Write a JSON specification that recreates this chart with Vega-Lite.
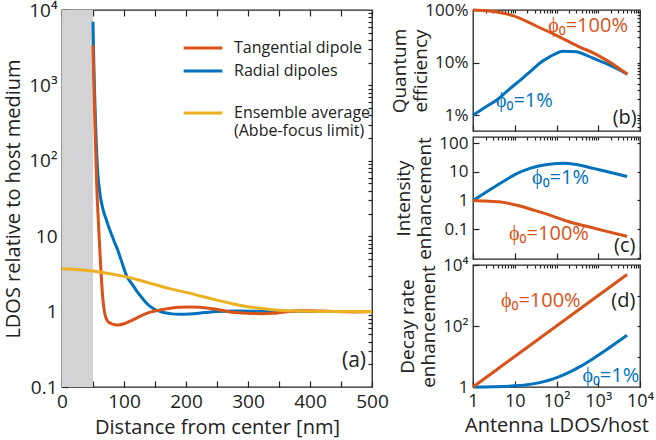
{
  "$schema": "https://vega.github.io/schema/vega-lite/v6.json",
  "padding": {"left": 3, "top": 0, "right": 0, "bottom": 0},
  "background": "white",
  "config": {
    "font": "Open Sans",
    "view": {"stroke": "#222", "strokeWidth": 1.3},
    "axis": {"labelFont": "Open Sans", "titleFont": "Open Sans", "labelColor": "#222", "titleColor": "#222", "tickColor": "#222", "domain": false, "grid": false, "tickSize": -6, "tickWidth": 1.2, "titleFontWeight": "normal", "labelFontSize": 17, "titleFontSize": 18, "labelPadding": 11, "labelFlush": false, "labelOverlap": false},
    "legend": {"labelFont": "Open Sans", "labelColor": "#222", "orient": "none", "title": null, "symbolType": "stroke", "symbolSize": 1500, "symbolStrokeWidth": 3, "labelFontSize": 16, "labelOffset": 10},
    "text": {"font": "Open Sans"}
  },
  "datasets": {
    "ldos": [
      {"r": 50, "v": 7000, "s": "Radial dipoles"}, {"r": 50.5, "v": 4200, "s": "Radial dipoles"}, {"r": 51, "v": 2600, "s": "Radial dipoles"}, {"r": 52, "v": 1200, "s": "Radial dipoles"}, {"r": 53, "v": 620, "s": "Radial dipoles"}, {"r": 54, "v": 340, "s": "Radial dipoles"}, {"r": 55, "v": 200, "s": "Radial dipoles"}, {"r": 56, "v": 125, "s": "Radial dipoles"}, {"r": 57, "v": 85, "s": "Radial dipoles"}, {"r": 58, "v": 63, "s": "Radial dipoles"}, {"r": 60, "v": 44, "s": "Radial dipoles"}, {"r": 62, "v": 33, "s": "Radial dipoles"}, {"r": 64, "v": 27, "s": "Radial dipoles"}, {"r": 66, "v": 23, "s": "Radial dipoles"}, {"r": 68, "v": 20, "s": "Radial dipoles"}, {"r": 71, "v": 17, "s": "Radial dipoles"}, {"r": 75, "v": 13.5, "s": "Radial dipoles"}, {"r": 80, "v": 10.5, "s": "Radial dipoles"}, {"r": 85, "v": 8.2, "s": "Radial dipoles"}, {"r": 90, "v": 6.5, "s": "Radial dipoles"}, {"r": 97, "v": 4.4, "s": "Radial dipoles"}, {"r": 104, "v": 3.0, "s": "Radial dipoles"}, {"r": 110, "v": 2.5, "s": "Radial dipoles"}, {"r": 115, "v": 2.2, "s": "Radial dipoles"}, {"r": 120, "v": 1.9, "s": "Radial dipoles"}, {"r": 126, "v": 1.64, "s": "Radial dipoles"}, {"r": 136, "v": 1.3, "s": "Radial dipoles"}, {"r": 147, "v": 1.1, "s": "Radial dipoles"}, {"r": 160, "v": 0.99, "s": "Radial dipoles"}, {"r": 174, "v": 0.94, "s": "Radial dipoles"}, {"r": 190, "v": 0.92, "s": "Radial dipoles"}, {"r": 206, "v": 0.93, "s": "Radial dipoles"}, {"r": 230, "v": 0.97, "s": "Radial dipoles"}, {"r": 250, "v": 1.0, "s": "Radial dipoles"}, {"r": 280, "v": 1.02, "s": "Radial dipoles"}, {"r": 320, "v": 1.01, "s": "Radial dipoles"}, {"r": 360, "v": 1.0, "s": "Radial dipoles"}, {"r": 400, "v": 1.0, "s": "Radial dipoles"}, {"r": 450, "v": 1.0, "s": "Radial dipoles"}, {"r": 500, "v": 1.0, "s": "Radial dipoles"},
      {"r": 50, "v": 3400, "s": "Tangential dipole"}, {"r": 50.5, "v": 2200, "s": "Tangential dipole"}, {"r": 51, "v": 1500, "s": "Tangential dipole"}, {"r": 52, "v": 700, "s": "Tangential dipole"}, {"r": 53, "v": 330, "s": "Tangential dipole"}, {"r": 54, "v": 160, "s": "Tangential dipole"}, {"r": 55, "v": 85, "s": "Tangential dipole"}, {"r": 56, "v": 48, "s": "Tangential dipole"}, {"r": 57, "v": 30, "s": "Tangential dipole"}, {"r": 58, "v": 20, "s": "Tangential dipole"}, {"r": 60, "v": 9.5, "s": "Tangential dipole"}, {"r": 62, "v": 4.6, "s": "Tangential dipole"}, {"r": 64, "v": 2.4, "s": "Tangential dipole"}, {"r": 66, "v": 1.45, "s": "Tangential dipole"}, {"r": 68, "v": 1.05, "s": "Tangential dipole"}, {"r": 70, "v": 0.87, "s": "Tangential dipole"}, {"r": 74, "v": 0.74, "s": "Tangential dipole"}, {"r": 80, "v": 0.69, "s": "Tangential dipole"}, {"r": 86, "v": 0.67, "s": "Tangential dipole"}, {"r": 91, "v": 0.665, "s": "Tangential dipole"}, {"r": 100, "v": 0.69, "s": "Tangential dipole"}, {"r": 110, "v": 0.75, "s": "Tangential dipole"}, {"r": 120, "v": 0.82, "s": "Tangential dipole"}, {"r": 130, "v": 0.9, "s": "Tangential dipole"}, {"r": 140, "v": 0.97, "s": "Tangential dipole"}, {"r": 150, "v": 1.02, "s": "Tangential dipole"}, {"r": 160, "v": 1.06, "s": "Tangential dipole"}, {"r": 175, "v": 1.11, "s": "Tangential dipole"}, {"r": 190, "v": 1.14, "s": "Tangential dipole"}, {"r": 205, "v": 1.15, "s": "Tangential dipole"}, {"r": 222, "v": 1.14, "s": "Tangential dipole"}, {"r": 240, "v": 1.1, "s": "Tangential dipole"}, {"r": 255, "v": 1.05, "s": "Tangential dipole"}, {"r": 271, "v": 0.99, "s": "Tangential dipole"}, {"r": 290, "v": 0.96, "s": "Tangential dipole"}, {"r": 305, "v": 0.945, "s": "Tangential dipole"}, {"r": 324, "v": 0.94, "s": "Tangential dipole"}, {"r": 340, "v": 0.95, "s": "Tangential dipole"}, {"r": 355, "v": 0.98, "s": "Tangential dipole"}, {"r": 370, "v": 1.01, "s": "Tangential dipole"}, {"r": 385, "v": 1.03, "s": "Tangential dipole"}, {"r": 400, "v": 1.03, "s": "Tangential dipole"}, {"r": 420, "v": 1.02, "s": "Tangential dipole"}, {"r": 440, "v": 1.0, "s": "Tangential dipole"}, {"r": 470, "v": 0.99, "s": "Tangential dipole"}, {"r": 500, "v": 1.0, "s": "Tangential dipole"},
      {"r": 0, "v": 3.7, "s": "Ensemble average"}, {"r": 25, "v": 3.62, "s": "Ensemble average"}, {"r": 50, "v": 3.45, "s": "Ensemble average"}, {"r": 75, "v": 3.2, "s": "Ensemble average"}, {"r": 100, "v": 2.93, "s": "Ensemble average"}, {"r": 125, "v": 2.6, "s": "Ensemble average"}, {"r": 150, "v": 2.28, "s": "Ensemble average"}, {"r": 175, "v": 2.0, "s": "Ensemble average"}, {"r": 200, "v": 1.8, "s": "Ensemble average"}, {"r": 225, "v": 1.6, "s": "Ensemble average"}, {"r": 250, "v": 1.42, "s": "Ensemble average"}, {"r": 275, "v": 1.27, "s": "Ensemble average"}, {"r": 300, "v": 1.16, "s": "Ensemble average"}, {"r": 325, "v": 1.09, "s": "Ensemble average"}, {"r": 350, "v": 1.04, "s": "Ensemble average"}, {"r": 375, "v": 1.02, "s": "Ensemble average"}, {"r": 400, "v": 1.01, "s": "Ensemble average"}, {"r": 450, "v": 1.0, "s": "Ensemble average"}, {"r": 500, "v": 1.0, "s": "Ensemble average"}
    ],
    "qe": [
      {"f": 1, "v": 0.01, "p": "1%"}, {"f": 2, "v": 0.0143, "p": "1%"}, {"f": 3.7, "v": 0.0194, "p": "1%"}, {"f": 7, "v": 0.03, "p": "1%"}, {"f": 13.4, "v": 0.046, "p": "1%"}, {"f": 25, "v": 0.07, "p": "1%"}, {"f": 40, "v": 0.098, "p": "1%"}, {"f": 70, "v": 0.13, "p": "1%"}, {"f": 145, "v": 0.165, "p": "1%"}, {"f": 300, "v": 0.16, "p": "1%"}, {"f": 525, "v": 0.137, "p": "1%"}, {"f": 1000, "v": 0.11, "p": "1%"}, {"f": 1600, "v": 0.095, "p": "1%"}, {"f": 3000, "v": 0.075, "p": "1%"}, {"f": 5000, "v": 0.06, "p": "1%"},
      {"f": 1, "v": 1.0, "p": "100%"}, {"f": 2, "v": 0.97, "p": "100%"}, {"f": 4, "v": 0.91, "p": "100%"}, {"f": 9, "v": 0.78, "p": "100%"}, {"f": 20, "v": 0.6, "p": "100%"}, {"f": 40, "v": 0.46, "p": "100%"}, {"f": 84, "v": 0.35, "p": "100%"}, {"f": 150, "v": 0.28, "p": "100%"}, {"f": 365, "v": 0.197, "p": "100%"}, {"f": 800, "v": 0.15, "p": "100%"}, {"f": 1600, "v": 0.11, "p": "100%"}, {"f": 3000, "v": 0.08, "p": "100%"}, {"f": 5000, "v": 0.06, "p": "100%"}
    ],
    "ie": [
      {"f": 1, "v": 1, "p": "1%"}, {"f": 2, "v": 1.9, "p": "1%"}, {"f": 5.3, "v": 4.6, "p": "1%"}, {"f": 10, "v": 8, "p": "1%"}, {"f": 23, "v": 13.3, "p": "1%"}, {"f": 50, "v": 17.5, "p": "1%"}, {"f": 145, "v": 20, "p": "1%"}, {"f": 300, "v": 18, "p": "1%"}, {"f": 760, "v": 13.3, "p": "1%"}, {"f": 1500, "v": 10.5, "p": "1%"}, {"f": 3000, "v": 8.3, "p": "1%"}, {"f": 4900, "v": 6.9, "p": "1%"},
      {"f": 1, "v": 1, "p": "100%"}, {"f": 2, "v": 0.96, "p": "100%"}, {"f": 5.3, "v": 0.86, "p": "100%"}, {"f": 13.4, "v": 0.64, "p": "100%"}, {"f": 30, "v": 0.45, "p": "100%"}, {"f": 84, "v": 0.28, "p": "100%"}, {"f": 200, "v": 0.18, "p": "100%"}, {"f": 525, "v": 0.125, "p": "100%"}, {"f": 1500, "v": 0.085, "p": "100%"}, {"f": 4900, "v": 0.056, "p": "100%"}
    ],
    "dr": [
      {"f": 1, "v": 1, "p": "1%"}, {"f": 3, "v": 1.02, "p": "1%"}, {"f": 10, "v": 1.09, "p": "1%"}, {"f": 23, "v": 1.22, "p": "1%"}, {"f": 50, "v": 1.5, "p": "1%"}, {"f": 84, "v": 1.84, "p": "1%"}, {"f": 200, "v": 3.0, "p": "1%"}, {"f": 365, "v": 4.65, "p": "1%"}, {"f": 800, "v": 9, "p": "1%"}, {"f": 1600, "v": 17, "p": "1%"}, {"f": 3000, "v": 31, "p": "1%"}, {"f": 4900, "v": 50, "p": "1%"},
      {"f": 1, "v": 1, "p": "100%"}, {"f": 10, "v": 10, "p": "100%"}, {"f": 100, "v": 100, "p": "100%"}, {"f": 1000, "v": 1000, "p": "100%"}, {"f": 4900, "v": 4900, "p": "100%"}
    ],
    "qeText": [
      {"f": 570, "v": 0.5, "t": "ϕ₀=100%", "p": "100%"}, {"f": 17, "v": 0.019, "t": "ϕ₀=1%", "p": "1%"}, {"f": 4300, "v": 0.009, "t": "(b)", "p": "lbl"}
    ],
    "ieText": [
      {"f": 125, "v": 6, "t": "ϕ₀=1%", "p": "1%"}, {"f": 66, "v": 0.066, "t": "ϕ₀=100%", "p": "100%"}, {"f": 4300, "v": 0.025, "t": "(c)", "p": "lbl"}
    ],
    "drText": [
      {"f": 42, "v": 640, "t": "ϕ₀=100%", "p": "100%"}, {"f": 2000, "v": 2.3, "t": "ϕ₀=1%", "p": "1%"}, {"f": 4000, "v": 640, "t": "(d)", "p": "lbl"}
    ]
  },
  "bounds": "flush",
  "spacing": 101,
  "resolve": {"scale": {"color": "independent"}, "legend": {"color": "independent"}},
  "hconcat": [
    {
      "width": 310,
      "height": 377,
      "layer": [
        {
          "data": {"values": [{"a": 0, "b": 50}]},
          "mark": {"type": "rect", "color": "#d3d3d5"},
          "encoding": {
            "x": {"field": "a", "type": "quantitative", "scale": {"domain": [0, 500], "nice": false}, "axis": null},
            "x2": {"field": "b"}
          }
        },
        {
          "data": {"name": "ldos"},
          "transform": [{"filter": "datum.s == 'Radial dipoles'"}],
          "mark": {"type": "line", "strokeWidth": 3, "interpolate": "monotone"},
          "encoding": {
            "x": {"field": "r", "type": "quantitative", "scale": {"domain": [0, 500], "nice": false},
                  "axis": {"title": "Distance from center [nm]", "values": [0, 50, 100, 150, 200, 250, 300, 350, 400, 450, 500], "labelExpr": "datum.value % 100 == 0 ? datum.label : ''", "labelFontSize": 19, "titleFontSize": 20, "titlePadding": 6}},
            "y": {"field": "v", "type": "quantitative", "scale": {"type": "log", "domain": [0.1, 10000], "nice": false},
                  "axis": {"title": "LDOS relative to host medium", "values": [0.1, 1, 10, 100, 1000, 10000], "labelExpr": "datum.value == 100 ? '10²' : datum.value == 1000 ? '10³' : datum.value == 10000 ? '10⁴' : datum.value == 0.1 ? '0.1' : datum.value == 1 ? '1' : '10'", "labelFontSize": 19, "titleFontSize": 20, "titlePadding": 5}},
            "color": {"field": "s", "type": "nominal",
                      "scale": {"domain": ["Radial dipoles"], "range": ["#0072bd"]},
                      "legend": {"legendX": 120, "legendY": 40}}
          }
        },
        {
          "data": {"name": "ldos"},
          "transform": [{"filter": "datum.s == 'Tangential dipole'"}],
          "mark": {"type": "line", "strokeWidth": 3, "interpolate": "monotone"},
          "encoding": {
            "x": {"field": "r", "type": "quantitative", "scale": {"domain": [0, 500], "nice": false}, "axis": null},
            "y": {"field": "v", "type": "quantitative", "scale": {"type": "log", "domain": [0.1, 10000], "nice": false}, "axis": null},
            "color": {"field": "s", "type": "nominal",
                      "scale": {"domain": ["Tangential dipole"], "range": ["#d95319"]},
                      "legend": {"legendX": 120, "legendY": 17}}
          }
        },
        {
          "data": {"name": "ldos"},
          "transform": [{"filter": "datum.s == 'Ensemble average'"}],
          "mark": {"type": "line", "strokeWidth": 3, "interpolate": "monotone"},
          "encoding": {
            "x": {"field": "r", "type": "quantitative", "scale": {"domain": [0, 500], "nice": false}, "axis": null},
            "y": {"field": "v", "type": "quantitative", "scale": {"type": "log", "domain": [0.1, 10000], "nice": false}, "axis": null},
            "color": {"field": "s", "type": "nominal",
                      "scale": {"domain": ["Ensemble average"], "range": ["#edb120"]},
                      "legend": {"legendX": 120, "legendY": 82, "labelExpr": "[datum.label, '(Abbe-focus limit)']"}}
          }
        },
        {
          "data": {"values": [{"r": 471, "v": 0.22, "t": "(a)"}]},
          "mark": {"type": "text", "fontSize": 21, "color": "#222"},
          "encoding": {
            "x": {"field": "r", "type": "quantitative", "scale": {"domain": [0, 500], "nice": false},
                  "axis": {"orient": "top", "labels": false, "title": null, "values": [0, 50, 100, 150, 200, 250, 300, 350, 400, 450, 500]}},
            "y": {"field": "v", "type": "quantitative", "scale": {"type": "log", "domain": [0.1, 10000], "nice": false},
                  "axis": {"orient": "right", "labels": false, "title": null, "tickSize": -4, "values": [0.2, 0.3, 0.4, 0.5, 0.6, 0.7, 0.8, 0.9, 1, 2, 3, 4, 5, 6, 7, 8, 9, 10, 20, 30, 40, 50, 60, 70, 80, 90, 100, 200, 300, 400, 500, 600, 700, 800, 900, 1000, 2000, 3000, 4000, 5000, 6000, 7000, 8000, 9000]}},
            "text": {"field": "t"}
          }
        }
      ],
      "resolve": {"axis": {"x": "independent", "y": "independent"}, "scale": {"color": "independent"}}
    },
    {
      "bounds": "flush",
      "spacing": 6,
      "resolve": {"scale": {"x": "independent", "y": "independent", "color": "independent"}},
      "vconcat": [
        {
          "width": 167,
          "height": 121,
          "layer": [
            {
              "data": {"name": "qe"},
              "mark": {"type": "line", "strokeWidth": 3, "interpolate": "monotone"},
              "encoding": {
                "x": {"field": "f", "type": "quantitative", "scale": {"type": "log", "domain": [1, 10000], "nice": false}, "axis": {"values": [1, 10, 100, 1000, 10000], "labels": false, "title": null}},
                "y": {"field": "v", "type": "quantitative", "scale": {"type": "log", "domain": [0.005, 1], "nice": false}, "axis": {"values": [0.01, 0.1, 1], "labelExpr": "datum.value == 1 ? '100%' : datum.value == 0.1 ? '10%' : '1%'", "title": ["Quantum", "efficiency"], "titleFontSize": 19, "titlePadding": -6}},
                "color": {"field": "p", "type": "nominal", "scale": {"domain": ["100%", "1%", "lbl"], "range": ["#d95319", "#0072bd", "#222"]}, "legend": null}
              }
            },
            {
              "data": {"name": "qeText"},
              "mark": {"type": "text", "fontSize": 20},
              "encoding": {
                "x": {"field": "f", "type": "quantitative", "scale": {"type": "log", "domain": [1, 10000], "nice": false}, "axis": {"orient": "top", "labels": false, "title": null, "tickSize": -3, "values": [2, 3, 4, 5, 6, 7, 8, 9, 10, 20, 30, 40, 50, 60, 70, 80, 90, 100, 200, 300, 400, 500, 600, 700, 800, 900, 1000, 2000, 3000, 4000, 5000, 6000, 7000, 8000, 9000]}},
                "y": {"field": "v", "type": "quantitative", "scale": {"type": "log", "domain": [0.005, 1], "nice": false}, "axis": {"orient": "right", "labels": false, "title": null, "tickSize": -3, "values": [0.006, 0.007, 0.008, 0.009, 0.01, 0.02, 0.03, 0.04, 0.05, 0.06, 0.07, 0.08, 0.09, 0.1, 0.2, 0.3, 0.4, 0.5, 0.6, 0.7, 0.8, 0.9]}},
                "text": {"field": "t"},
                "color": {"field": "p", "type": "nominal", "scale": {"domain": ["100%", "1%", "lbl"], "range": ["#d95319", "#0072bd", "#222"]}, "legend": null}
              }
            }
          ],
          "resolve": {"axis": {"x": "independent", "y": "independent"}}
        },
        {
          "width": 167,
          "height": 122,
          "layer": [
            {
              "data": {"name": "ie"},
              "mark": {"type": "line", "strokeWidth": 3, "interpolate": "monotone"},
              "encoding": {
                "x": {"field": "f", "type": "quantitative", "scale": {"type": "log", "domain": [1, 10000], "nice": false}, "axis": {"values": [1, 10, 100, 1000, 10000], "labels": false, "title": null}},
                "y": {"field": "v", "type": "quantitative", "scale": {"type": "log", "domain": [0.009, 166], "nice": false}, "axis": {"values": [0.1, 1, 10, 100], "labelExpr": "datum.value == 0.1 ? '0.1' : datum.value == 1 ? '1' : datum.value == 10 ? '10' : '100'", "title": ["Intensity", "enhancement"], "titleFontSize": 19, "titlePadding": 4}},
                "color": {"field": "p", "type": "nominal", "scale": {"domain": ["100%", "1%", "lbl"], "range": ["#d95319", "#0072bd", "#222"]}, "legend": null}
              }
            },
            {
              "data": {"name": "ieText"},
              "mark": {"type": "text", "fontSize": 20},
              "encoding": {
                "x": {"field": "f", "type": "quantitative", "scale": {"type": "log", "domain": [1, 10000], "nice": false}, "axis": {"orient": "top", "labels": false, "title": null, "tickSize": -3, "values": [2, 3, 4, 5, 6, 7, 8, 9, 10, 20, 30, 40, 50, 60, 70, 80, 90, 100, 200, 300, 400, 500, 600, 700, 800, 900, 1000, 2000, 3000, 4000, 5000, 6000, 7000, 8000, 9000]}},
                "y": {"field": "v", "type": "quantitative", "scale": {"type": "log", "domain": [0.009, 166], "nice": false}, "axis": {"orient": "right", "labels": false, "title": null, "tickSize": -3, "values": [0.01, 0.1, 1, 10, 100]}},
                "text": {"field": "t"},
                "color": {"field": "p", "type": "nominal", "scale": {"domain": ["100%", "1%", "lbl"], "range": ["#d95319", "#0072bd", "#222"]}, "legend": null}
              }
            }
          ],
          "resolve": {"axis": {"x": "independent", "y": "independent"}}
        },
        {
          "width": 167,
          "height": 122,
          "layer": [
            {
              "data": {"name": "dr"},
              "mark": {"type": "line", "strokeWidth": 3, "interpolate": "monotone"},
              "encoding": {
                "x": {"field": "f", "type": "quantitative", "scale": {"type": "log", "domain": [1, 10000], "nice": false}, "axis": {"values": [1, 10, 100, 1000, 10000], "labelExpr": "datum.value == 1 ? '1' : datum.value == 10 ? '10' : datum.value == 100 ? '10²' : datum.value == 1000 ? '10³' : '10⁴'", "labelFontSize": 18, "title": "Antenna LDOS/host", "titleFontSize": 20, "titlePadding": 5}},
                "y": {"field": "v", "type": "quantitative", "scale": {"type": "log", "domain": [1, 10000], "nice": false}, "axis": {"values": [1, 100, 10000], "labelExpr": "datum.value == 1 ? '1' : datum.value == 100 ? '10²' : '10⁴'", "title": ["Decay rate", "enhancement"], "titleFontSize": 19, "titlePadding": 4}},
                "color": {"field": "p", "type": "nominal", "scale": {"domain": ["100%", "1%", "lbl"], "range": ["#d95319", "#0072bd", "#222"]}, "legend": null}
              }
            },
            {
              "data": {"name": "drText"},
              "mark": {"type": "text", "fontSize": 20},
              "encoding": {
                "x": {"field": "f", "type": "quantitative", "scale": {"type": "log", "domain": [1, 10000], "nice": false}, "axis": {"orient": "top", "labels": false, "title": null, "tickSize": -3, "values": [2, 3, 4, 5, 6, 7, 8, 9, 10, 20, 30, 40, 50, 60, 70, 80, 90, 100, 200, 300, 400, 500, 600, 700, 800, 900, 1000, 2000, 3000, 4000, 5000, 6000, 7000, 8000, 9000]}},
                "y": {"field": "v", "type": "quantitative", "scale": {"type": "log", "domain": [1, 10000], "nice": false}, "axis": {"orient": "right", "labels": false, "title": null, "tickSize": -3, "values": [10, 100, 1000]}},
                "text": {"field": "t"},
                "color": {"field": "p", "type": "nominal", "scale": {"domain": ["100%", "1%", "lbl"], "range": ["#d95319", "#0072bd", "#222"]}, "legend": null}
              }
            }
          ],
          "resolve": {"axis": {"x": "independent", "y": "independent"}}
        }
      ]
    }
  ]
}
